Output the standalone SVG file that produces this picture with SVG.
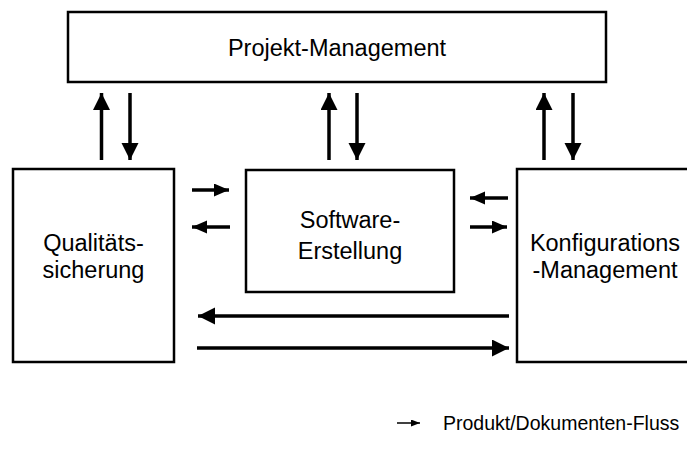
<svg xmlns="http://www.w3.org/2000/svg" width="687" height="468" viewBox="0 0 687 468">
<style>
.box{fill:#fff;stroke:#000;stroke-width:2.5}
.lbl{font-family:"Liberation Sans",Arial,sans-serif;font-size:23.5px;fill:#000;text-anchor:middle}
.arr{stroke:#000;stroke-width:3.5;fill:none}
.leg{font-family:"Liberation Sans",Arial,sans-serif;font-size:19.5px;fill:#000}
</style>
<defs>
<marker id="big" markerUnits="userSpaceOnUse" markerWidth="18" markerHeight="18" refX="17" refY="8.5" orient="auto"><path d="M0,0 L17,8.5 L0,17 z" fill="#000"/></marker>
<marker id="small" markerUnits="userSpaceOnUse" markerWidth="16" markerHeight="14" refX="15" refY="6.5" orient="auto"><path d="M0,0 L15,6.5 L0,13 z" fill="#000"/></marker>
<marker id="tiny" markerUnits="userSpaceOnUse" markerWidth="10" markerHeight="8" refX="9" refY="3.5" orient="auto"><path d="M0,0 L9,3.5 L0,7 z" fill="#000"/></marker>
</defs>
<g id="projekt-management">
<rect class="box" x="68" y="12" width="538" height="70"/>
<text class="lbl" x="337" y="56">Projekt-Management</text>
</g>
<g id="qualitaetssicherung">
<rect class="box" x="13" y="169" width="161" height="193"/>
<text class="lbl" x="93.5" y="251">Qualitäts-</text>
<text class="lbl" x="93.5" y="278">sicherung</text>
</g>
<g id="software-erstellung">
<rect class="box" x="246" y="170" width="208" height="122"/>
<text class="lbl" x="350" y="228">Software-</text>
<text class="lbl" x="350" y="259">Erstellung</text>
</g>
<g id="konfigurations-management">
<rect class="box" x="517" y="169" width="190" height="193"/>
<text class="lbl" x="605" y="251">Konfigurations</text>
<text class="lbl" x="605" y="278">-Management</text>
</g>
<g id="connectors">
<line class="arr" x1="101.5" y1="160" x2="101.5" y2="93" marker-end="url(#big)"/>
<line class="arr" x1="130" y1="93" x2="130" y2="160" marker-end="url(#big)"/>
<line class="arr" x1="329" y1="160" x2="329" y2="93" marker-end="url(#big)"/>
<line class="arr" x1="357" y1="93" x2="357" y2="160" marker-end="url(#big)"/>
<line class="arr" x1="544" y1="160" x2="544" y2="93" marker-end="url(#big)"/>
<line class="arr" x1="573" y1="93" x2="573" y2="160" marker-end="url(#big)"/>
<line class="arr" x1="192" y1="190" x2="229" y2="190" marker-end="url(#small)"/>
<line class="arr" x1="230" y1="227" x2="192" y2="227" marker-end="url(#small)"/>
<line class="arr" x1="508" y1="198" x2="470" y2="198" marker-end="url(#small)"/>
<line class="arr" x1="470" y1="227" x2="507" y2="227" marker-end="url(#small)"/>
<line class="arr" x1="509" y1="316" x2="198" y2="316" marker-end="url(#big)"/>
<line class="arr" x1="197" y1="348" x2="509" y2="348" marker-end="url(#big)"/>
</g>
<g id="legend">
<line x1="397" y1="423" x2="420" y2="423" stroke="#000" stroke-width="1.5" marker-end="url(#tiny)"/>
<text class="leg" x="443" y="430">Produkt/Dokumenten-Fluss</text>
</g>
</svg>
